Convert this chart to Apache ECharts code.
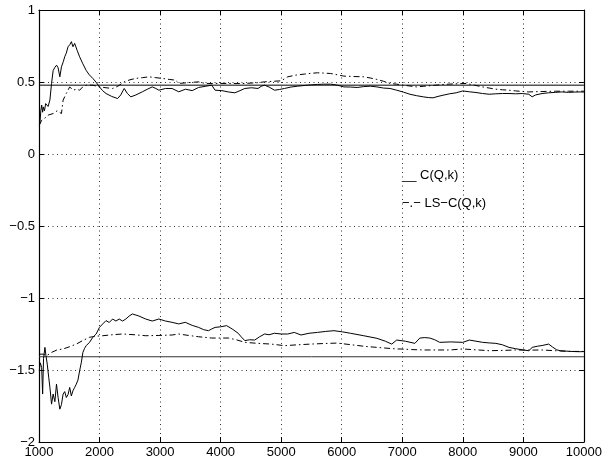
<!DOCTYPE html>
<html><head><meta charset="utf-8">
<script src="https://cdn.jsdelivr.net/npm/echarts@6/dist/echarts.min.js"></script>
<style>html,body{margin:0;padding:0;background:#fff}#c{width:605px;height:463px}</style>
</head><body><div id="c"></div>
<script>
const xTicks = [1000,2000,3000,4000,5000,6000,7000,8000,9000,10000];
const yTicks = [-2,-1.5,-1,-0.5,0,0.5,1];
const refUpper = 0.478;
const refLower = -1.408;
const upperC = [[1005,0.2],[1016,0.22],[1030,0.3],[1044,0.34],[1060,0.29],[1071,0.327],[1090,0.3],[1110,0.35],[1150,0.33],[1180,0.374],[1207,0.49],[1234,0.58],[1260,0.6],[1290,0.617],[1315,0.6],[1344,0.536],[1371,0.605],[1400,0.64],[1425,0.675],[1450,0.7],[1480,0.745],[1510,0.76],[1535,0.78],[1561,0.745],[1589,0.768],[1630,0.72],[1671,0.675],[1720,0.63],[1780,0.58],[1830,0.55],[1889,0.525],[1940,0.5],[1998,0.466],[2050,0.44],[2107,0.42],[2200,0.4],[2298,0.385],[2350,0.41],[2407,0.455],[2460,0.42],[2517,0.397],[2600,0.41],[2707,0.432],[2790,0.45],[2871,0.466],[2930,0.455],[2980,0.443],[3090,0.455],[3198,0.455],[3308,0.432],[3420,0.45],[3530,0.44],[3635,0.462],[3745,0.47],[3853,0.478],[3908,0.443],[4020,0.44],[4126,0.431],[4235,0.425],[4320,0.44],[4399,0.455],[4510,0.46],[4617,0.455],[4670,0.47],[4726,0.478],[4800,0.465],[4890,0.443],[4970,0.448],[5054,0.455],[5160,0.465],[5272,0.471],[5430,0.478],[5599,0.483],[5700,0.485],[5817,0.485],[5930,0.478],[6035,0.466],[6145,0.465],[6254,0.462],[6363,0.468],[6472,0.471],[6581,0.466],[6690,0.458],[6799,0.455],[6908,0.443],[7017,0.43],[7126,0.415],[7236,0.405],[7345,0.397],[7430,0.392],[7508,0.39],[7590,0.4],[7672,0.408],[7780,0.418],[7890,0.425],[7999,0.438],[8108,0.432],[8217,0.427],[8327,0.42],[8436,0.415],[8545,0.418],[8654,0.42],[8763,0.42],[8872,0.418],[8981,0.42],[9090,0.415],[9145,0.397],[9200,0.41],[9309,0.42],[9418,0.425],[9527,0.428],[9636,0.431],[9745,0.428],[9850,0.43],[9936,0.431],[10000,0.43]];
const upperLS = [[1005,0.2],[1044,0.234],[1100,0.25],[1150,0.27],[1234,0.281],[1300,0.3],[1371,0.281],[1398,0.374],[1450,0.42],[1507,0.466],[1561,0.443],[1620,0.45],[1671,0.443],[1720,0.465],[1780,0.478],[1889,0.478],[1998,0.466],[2107,0.46],[2216,0.455],[2300,0.47],[2407,0.501],[2500,0.515],[2598,0.525],[2707,0.53],[2816,0.536],[2930,0.53],[3035,0.525],[3150,0.518],[3253,0.513],[3308,0.49],[3450,0.495],[3635,0.501],[3745,0.49],[3960,0.49],[4180,0.49],[4400,0.49],[4600,0.495],[4726,0.501],[4870,0.505],[4999,0.508],[5108,0.536],[5245,0.548],[5381,0.555],[5490,0.56],[5599,0.564],[5700,0.562],[5817,0.559],[5930,0.55],[6035,0.541],[6200,0.538],[6363,0.536],[6470,0.528],[6581,0.518],[6690,0.505],[6799,0.49],[6908,0.485],[7017,0.478],[7126,0.472],[7236,0.466],[7345,0.47],[7510,0.476],[7672,0.483],[7860,0.487],[8054,0.49],[8190,0.478],[8327,0.466],[8436,0.458],[8545,0.45],[8654,0.446],[8763,0.443],[8872,0.438],[9090,0.431],[9309,0.434],[9527,0.436],[9745,0.436],[9936,0.436],[10000,0.436]];
const lowerC = [[1005,-1.505],[1020,-1.45],[1044,-1.482],[1060,-1.667],[1075,-1.42],[1098,-1.343],[1115,-1.4],[1136,-1.459],[1160,-1.55],[1180,-1.62],[1207,-1.737],[1234,-1.667],[1262,-1.72],[1289,-1.598],[1315,-1.69],[1344,-1.772],[1371,-1.74],[1398,-1.667],[1425,-1.65],[1452,-1.691],[1480,-1.67],[1507,-1.621],[1534,-1.68],[1561,-1.644],[1590,-1.62],[1616,-1.598],[1643,-1.57],[1671,-1.505],[1698,-1.45],[1725,-1.378],[1752,-1.35],[1780,-1.331],[1807,-1.34],[1834,-1.308],[1862,-1.31],[1889,-1.273],[1944,-1.25],[1998,-1.204],[2053,-1.18],[2107,-1.157],[2160,-1.17],[2216,-1.146],[2270,-1.16],[2325,-1.146],[2380,-1.16],[2434,-1.146],[2490,-1.125],[2543,-1.111],[2650,-1.125],[2762,-1.146],[2870,-1.16],[2980,-1.146],[3090,-1.16],[3198,-1.169],[3308,-1.18],[3416,-1.169],[3530,-1.19],[3635,-1.204],[3720,-1.22],[3799,-1.227],[3853,-1.215],[3908,-1.204],[4000,-1.2],[4099,-1.192],[4190,-1.215],[4290,-1.245],[4340,-1.27],[4399,-1.296],[4480,-1.29],[4563,-1.292],[4640,-1.27],[4726,-1.25],[4800,-1.255],[4890,-1.245],[5000,-1.25],[5108,-1.25],[5217,-1.239],[5327,-1.257],[5460,-1.245],[5599,-1.239],[5735,-1.232],[5872,-1.227],[6010,-1.235],[6145,-1.245],[6363,-1.262],[6581,-1.28],[6720,-1.3],[6826,-1.32],[6854,-1.32],[6908,-1.292],[7050,-1.3],[7208,-1.315],[7290,-1.278],[7372,-1.275],[7454,-1.278],[7536,-1.29],[7618,-1.308],[7800,-1.305],[7999,-1.308],[8108,-1.292],[8217,-1.3],[8327,-1.308],[8436,-1.312],[8545,-1.315],[8654,-1.325],[8763,-1.343],[8872,-1.352],[8981,-1.36],[9090,-1.366],[9145,-1.343],[9230,-1.335],[9309,-1.33],[9418,-1.32],[9480,-1.34],[9550,-1.36],[9609,-1.366],[9745,-1.37],[9850,-1.372],[9936,-1.373],[10000,-1.372]];
const lowerLS = [[1005,-1.39],[1016,-1.378],[1070,-1.39],[1125,-1.401],[1207,-1.378],[1300,-1.36],[1398,-1.354],[1507,-1.338],[1616,-1.32],[1725,-1.295],[1834,-1.273],[1944,-1.265],[2053,-1.262],[2216,-1.255],[2380,-1.25],[2570,-1.255],[2762,-1.262],[2980,-1.26],[3198,-1.257],[3308,-1.25],[3470,-1.26],[3635,-1.269],[3853,-1.278],[4126,-1.278],[4260,-1.29],[4399,-1.308],[4617,-1.315],[4835,-1.32],[5054,-1.331],[5270,-1.325],[5490,-1.32],[5710,-1.316],[5926,-1.313],[6145,-1.324],[6363,-1.335],[6581,-1.343],[6908,-1.354],[6963,-1.354],[7150,-1.358],[7345,-1.361],[7560,-1.361],[7781,-1.361],[7999,-1.354],[8220,-1.36],[8436,-1.366],[8654,-1.364],[8872,-1.361],[9090,-1.362],[9309,-1.361],[9527,-1.366],[9745,-1.371],[9936,-1.371],[10000,-1.371]];
const legendLabels = ['__ C(Q,k)', '\u2212.\u2212 LS\u2212C(Q,k)'];

const chart = echarts.init(document.getElementById('c'), null, {renderer:'canvas'});
const FONT = 'Liberation Sans, Arial, Helvetica, sans-serif';
const fmtY = v => { const s = String(Math.abs(v)); return v < 0 ? '\u2212' + s : s; };
const solid = {color:'#000', width:1, type:'solid'};
const dashdot = {color:'#000', width:1, type:[6,3,1.5,3]};
function line(data, ls){ return {type:'line', data, showSymbol:false, symbol:'none', lineStyle:ls, animation:false, silent:true}; }
chart.setOption({
  animation:false,
  backgroundColor:'#fff',
  grid:{left:39, right:19, top:10, bottom:21, show:false},
  xAxis:[
    {type:'value', min:1000, max:10000, interval:1000, position:'bottom',
     axisLine:{show:true, onZero:false, lineStyle:{color:'#000', width:1.2}},
     axisTick:{show:true, inside:true, length:5, lineStyle:{color:'#000'}},
     axisLabel:{color:'#000', fontFamily:FONT, fontSize:13, margin:4, formatter:v=>String(v)},
     splitLine:{show:true, lineStyle:{color:'#333', width:1, type:[1,3.5]}}},
    {type:'value', min:1000, max:10000, interval:1000, position:'top',
     axisLine:{show:true, onZero:false, lineStyle:{color:'#000', width:1.2}},
     axisTick:{show:true, inside:true, length:5, lineStyle:{color:'#000'}},
     axisLabel:{show:false}, splitLine:{show:false}}
  ],
  yAxis:[
    {type:'value', min:-2, max:1, interval:0.5, position:'left',
     axisLine:{show:true, onZero:false, lineStyle:{color:'#000', width:1.2}},
     axisTick:{show:true, inside:true, length:5, lineStyle:{color:'#000'}},
     axisLabel:{color:'#000', fontFamily:FONT, fontSize:13, margin:4, formatter:fmtY},
     splitLine:{show:true, lineStyle:{color:'#333', width:1, type:[1,3.5]}}},
    {type:'value', min:-2, max:1, interval:0.5, position:'right',
     axisLine:{show:true, onZero:false, lineStyle:{color:'#000', width:1.2}},
     axisTick:{show:true, inside:true, length:5, lineStyle:{color:'#000'}},
     axisLabel:{show:false}, splitLine:{show:false}}
  ],
  series:[
    line([[1000,refUpper],[10000,refUpper]], {color:'#000', width:1}),
    line([[1000,refLower],[10000,refLower]], {color:'#333', width:1}),
    line(upperLS, dashdot),
    line(lowerLS, dashdot),
    line(upperC, solid),
    line(lowerC, solid)
  ],
  graphic:[
    {type:'text', left:402, top:169, style:{text:legendLabels[0], fill:'#000', font:'13px '+FONT}},
    {type:'text', left:402, top:197, style:{text:legendLabels[1], fill:'#000', font:'13px '+FONT}}
  ]
});
</script></body></html>
